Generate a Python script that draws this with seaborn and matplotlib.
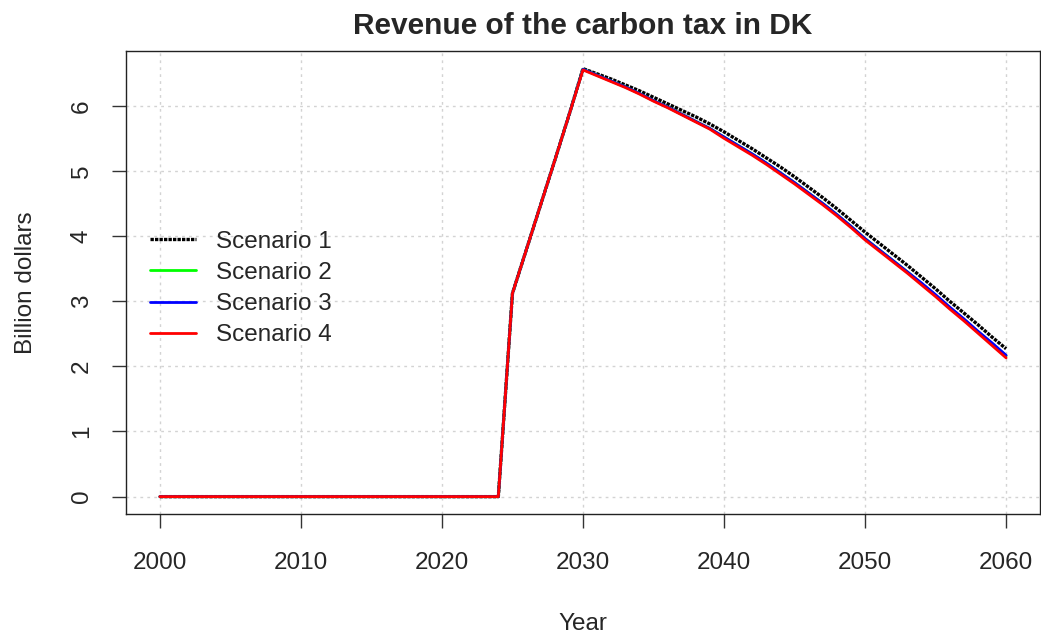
import matplotlib

matplotlib.use("Agg")

import matplotlib.pyplot as plt
import numpy as np
import seaborn as sns

sns.set_style("white")
plt.rcParams["font.family"] = ["Liberation Sans", "DejaVu Sans"]

years = list(range(2000, 2061))

# revenue before and during the ramp-up (same in all scenarios)
ramp = [0.0] * 25 + [3.12, 3.80, 4.48, 5.16, 5.85]

# 2030-2060
s1_tail = [6.57, 6.49, 6.41, 6.32, 6.23, 6.13, 6.03, 5.93, 5.83, 5.72, 5.60,
           5.47, 5.34, 5.20, 5.06, 4.91, 4.75, 4.59, 4.42, 4.24, 4.06,
           3.89, 3.72, 3.55, 3.37, 3.19, 3.00, 2.82, 2.64, 2.45, 2.27]
s2_tail = [6.56, 6.47, 6.38, 6.29, 6.19, 6.08, 5.98, 5.87, 5.76, 5.65, 5.52,
           5.39, 5.26, 5.12, 4.97, 4.82, 4.66, 4.50, 4.33, 4.15, 3.96,
           3.79, 3.62, 3.45, 3.27, 3.09, 2.90, 2.72, 2.53, 2.35, 2.16]
s3_tail = [6.56, 6.47, 6.38, 6.29, 6.19, 6.08, 5.98, 5.87, 5.76, 5.65, 5.52,
           5.39, 5.26, 5.12, 4.97, 4.82, 4.66, 4.50, 4.33, 4.15, 3.96,
           3.79, 3.62, 3.45, 3.28, 3.10, 2.91, 2.73, 2.54, 2.36, 2.17]
s4_tail = [6.55, 6.46, 6.37, 6.28, 6.18, 6.07, 5.97, 5.86, 5.75, 5.64, 5.50,
           5.37, 5.24, 5.10, 4.95, 4.80, 4.64, 4.48, 4.31, 4.13, 3.94,
           3.77, 3.60, 3.43, 3.25, 3.07, 2.88, 2.70, 2.51, 2.32, 2.13]

scenarios = ["Scenario 1", "Scenario 2", "Scenario 3", "Scenario 4"]
values = [ramp + s1_tail, ramp + s2_tail, ramp + s3_tail, ramp + s4_tail]
colors = ["black", "#00FF00", "#0000FF", "#FF0000"]
styles = [(0, (1, 0.35)), "-", "-", "-"]
widths = [2.4, 2.0, 2.0, 2.0]

fig = plt.figure(figsize=(10.41, 6.38), dpi=100)
ax = fig.add_axes([0.121, 0.194, 0.878, 0.726])

for name, vals, col, ls, lw in zip(scenarios, values, colors, styles, widths):
    sns.lineplot(x=years, y=vals, color=col, linestyle=ls, linewidth=lw,
                 label=name, ax=ax)

ax.set_xlim(1997.6, 2062.4)
ax.set_ylim(-0.27, 6.84)
ax.set_xticks(np.arange(2000, 2061, 10))
ax.set_yticks(range(0, 7))
ax.grid(True, color="#d3d3d3", linestyle=(0, (2, 3)), linewidth=1.0)
ax.set_axisbelow(True)

for sp in ax.spines.values():
    sp.set_color("#222222")
    sp.set_linewidth(1.0)

ax.tick_params(axis="both", direction="out", length=10, width=1.0,
               color="#333333", labelsize=17.5, pad=14, bottom=True, left=True)
ax.tick_params(axis="x", pad=17)
for lab in ax.get_yticklabels():
    lab.set_rotation(90)
    lab.set_va("center")

ax.set_xlabel("Year", fontsize=17.5, labelpad=28)
ax.set_ylabel("Billion dollars", fontsize=17.5, labelpad=24)
ax.set_title("Revenue of the carbon tax in DK", fontsize=21.5, fontweight="bold",
             pad=12)

ax.legend(loc="upper left", bbox_to_anchor=(0.0, 0.665), frameon=False,
          fontsize=17.5, handlelength=1.9, handletextpad=0.8, labelspacing=0.38,
          borderaxespad=0.6)

fig.savefig("out.png", dpi=100)
